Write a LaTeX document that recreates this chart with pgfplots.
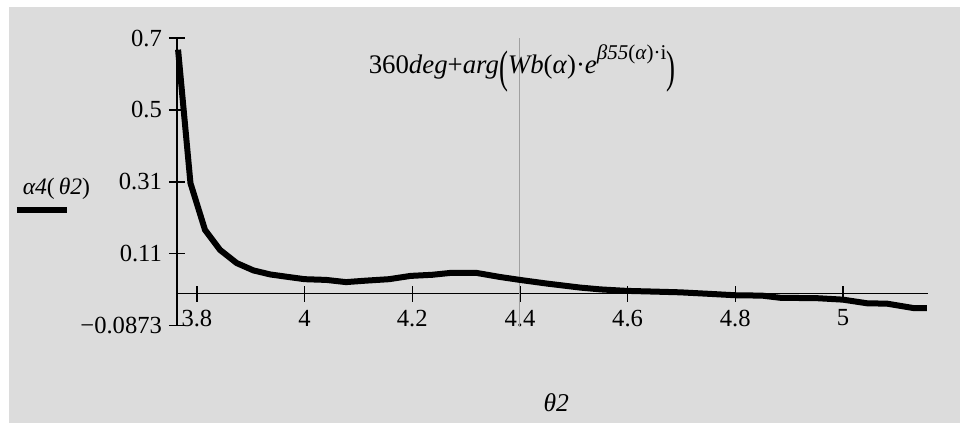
\documentclass[border=0pt]{standalone}
\usepackage{fontspec}
\setmainfont{Liberation Serif}
\usepackage{pgfplots}
\pgfplotsset{compat=1.18}
\usepackage{graphicx}
\definecolor{bg}{RGB}{220,220,220}
\definecolor{vline}{RGB}{160,160,160}
\begin{document}
\begin{tikzpicture}
\fill[white] (-88.5pt,-48.65pt) rectangle (391.5pt,162.85pt);
\fill[bg] (-84pt,-48.65pt) rectangle (391.5pt,159.35pt);
\begin{axis}[
  at={(0,0)}, anchor=south west,
  scale only axis,
  width=375.5pt, height=143.85pt,
  xmin=3.763, xmax=5.158,
  ymin=-0.0873, ymax=0.7,
  axis x line=middle, axis y line=left,
  axis line style={-, line width=0.65pt, black},
  tick align=center,
  major tick length=8pt,
  every tick/.style={black, line width=0.65pt},
  xtick={3.8,4,4.2,4.4,4.6,4.8,5},
  xticklabels={3.8,4,4.2,4.4,4.6,4.8,5},
  ytick={-0.0873,0.1095,0.3063,0.5032,0.7},
  yticklabels={−0.0873,0.11,0.31,0.5,0.7},
  tick label style={font=\fontsize{12.3}{14}\selectfont},
  xticklabel style={yshift=-0.5pt},
  yticklabel style={xshift=0pt},
  clip=false,
]
\draw[vline, line width=0.5pt] (axis cs:4.4,-0.0873) -- (axis cs:4.4,0.7);
\addplot[black, line width=3pt, line cap=butt] table {
3.765 0.668
3.788 0.303
3.815 0.175
3.843 0.120
3.874 0.084
3.905 0.064
3.936 0.053
3.970 0.046
4.000 0.040
4.040 0.038
4.077 0.032
4.114 0.036
4.157 0.040
4.197 0.049
4.237 0.052
4.270 0.057
4.320 0.057
4.363 0.046
4.400 0.038
4.450 0.028
4.512 0.017
4.550 0.012
4.598 0.008
4.650 0.006
4.698 0.004
4.750 0.000
4.800 -0.004
4.850 -0.005
4.884 -0.011
4.952 -0.012
5.000 -0.016
5.045 -0.026
5.082 -0.027
5.131 -0.039
5.156 -0.039
};
\node[anchor=base, font=\fontsize{13.4}{15}\selectfont] at (axis cs:4.404,0.6042)
  {360\textit{deg}+\textit{arg}\raisebox{-0.35em}{\scalebox{1}[1.7]{(}}\textit{Wb}(\textit{α})·\textit{e}\raisebox{0.5em}{\fontsize{10.5}{12}\selectfont\textit{β55}(\textit{α})·i}\raisebox{-0.35em}{\scalebox{1}[1.7]{)}}};
\node[anchor=base, font=\fontsize{12.8}{15}\selectfont] at (axis cs:4.4675,-0.3226) {\textit{θ2}};
\node[anchor=base, font=\fontsize{11.8}{13}\selectfont] at (axis cs:3.539,0.2723) {\textit{α4}(\,\textit{θ2})};
\draw[black, line width=3pt] (axis cs:3.4656,0.2293) -- (axis cs:3.5585,0.2293);
\end{axis}
\end{tikzpicture}
\end{document}
